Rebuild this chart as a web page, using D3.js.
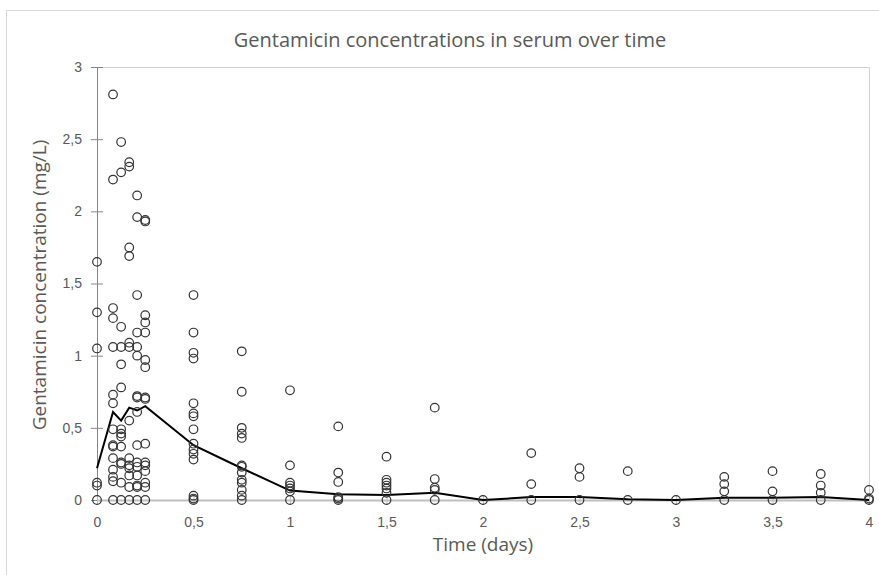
<!DOCTYPE html>
<html>
<head>
<meta charset="utf-8">
<script src="https://cdn.jsdelivr.net/npm/d3@7"></script>
<style>
  body { margin: 0; background: #fff; }
  svg { font-family: "Open Sans", "Noto Sans", sans-serif; }
</style>
</head>
<body>
<div id="chart"></div>
<script>
// sampling times (days)
var times = [0, 0.083, 0.125, 0.167, 0.208, 0.25, 0.5, 0.75, 1, 1.25, 1.5, 1.75, 2, 2.25, 2.5, 2.75, 3, 3.25, 3.5, 3.75, 4];

// measured concentrations (mg/L), one list per sampling time
var concByTime = [
  [1.65, 1.30, 1.05, 0.12, 0.10, 0],
  [2.81, 2.22, 1.33, 1.26, 1.06, 0.73, 0.67, 0.49, 0.38, 0.37, 0.29, 0.21, 0.16, 0.13, 0],
  [2.48, 2.27, 1.20, 1.06, 0.94, 0.78, 0.49, 0.46, 0.44, 0.37, 0.26, 0.25, 0.12, 0],
  [2.34, 2.31, 1.75, 1.69, 1.09, 1.06, 0.55, 0.29, 0.24, 0.22, 0.17, 0.09, 0],
  [2.11, 1.96, 1.42, 1.16, 1.06, 1.00, 0.72, 0.71, 0.61, 0.38, 0.26, 0.23, 0.17, 0.10, 0.09, 0],
  [1.94, 1.93, 1.28, 1.23, 1.16, 0.97, 0.92, 0.71, 0.70, 0.39, 0.26, 0.24, 0.20, 0.12, 0.09, 0],
  [1.42, 1.16, 1.02, 0.98, 0.67, 0.60, 0.58, 0.49, 0.39, 0.35, 0.32, 0.28, 0.03, 0.01, 0],
  [1.03, 0.75, 0.50, 0.46, 0.43, 0.24, 0.23, 0.19, 0.14, 0.12, 0.07, 0.03, 0],
  [0.76, 0.24, 0.12, 0.10, 0.08, 0.06, 0],
  [0.51, 0.19, 0.125, 0.02, 0.01, 0],
  [0.30, 0.14, 0.12, 0.10, 0.08, 0.05, 0],
  [0.64, 0.145, 0.085, 0.07, 0],
  [0],
  [0.325, 0.11, 0],
  [0.22, 0.16, 0],
  [0.20, 0],
  [0],
  [0.16, 0.11, 0.06, 0],
  [0.20, 0.06, 0],
  [0.18, 0.10, 0.05, 0],
  [0.07, 0.01, 0]
];

// average line
var meanConc = [0.22, 0.61, 0.55, 0.64, 0.62, 0.65, 0.38, 0.22, 0.065, 0.04, 0.035, 0.05, 0, 0.02, 0.02, 0.005, 0, 0.015, 0.015, 0.02, 0];

var xTicks = [0, 0.5, 1, 1.5, 2, 2.5, 3, 3.5, 4];
var yTicks = [0, 0.5, 1, 1.5, 2, 2.5, 3];

var W = 879, H = 575;
var pLeft = 97, pRight = 869, pTop = 67, pBottom = 500;
var grey = "#595959";
var fmt = function(d) { return String(d).replace(".", ","); };

var svg = d3.select("#chart")
  .append("svg")
  .attr("width", W)
  .attr("height", H);

// chart area frame
svg.append("rect")
  .attr("x", 6.5).attr("y", 10.5)
  .attr("width", W + 20).attr("height", H + 20)
  .attr("fill", "#fff")
  .attr("stroke", "#d9d9d9");

var xScale = d3.scaleLinear().domain([0, 4]).range([pLeft, pRight]);
var yScale = d3.scaleLinear().domain([0, 3]).range([pBottom, pTop]);

// plot area border (top + right)
svg.append("path")
  .attr("d", "M" + pLeft + "," + (pTop + 0.5) + "H" + (pRight + 0.5) + "V" + pBottom)
  .attr("fill", "none")
  .attr("stroke", "#d0d0d0");

// y axis
var yAxis = d3.axisLeft(yScale)
  .tickValues(yTicks)
  .tickFormat(fmt)
  .tickSizeInner(5)
  .tickSizeOuter(0)
  .tickPadding(10);

var gy = svg.append("g")
  .attr("transform", "translate(" + pLeft + ",0)")
  .call(yAxis);
gy.select(".domain").attr("stroke", "#868686");
gy.selectAll(".tick line").attr("stroke", "#868686").attr("x1", 6).attr("x2", -6);
gy.selectAll(".tick text").attr("fill", grey).style("font-size", "14px");

// x axis
var xAxis = d3.axisBottom(xScale)
  .tickValues(xTicks)
  .tickFormat(fmt)
  .tickSizeInner(5)
  .tickSizeOuter(0)
  .tickPadding(12);

var gx = svg.append("g")
  .attr("transform", "translate(0," + pBottom + ")")
  .call(xAxis);
gx.select(".domain").attr("stroke", "#bfbfbf").attr("stroke-width", 2);
gx.selectAll(".tick line").attr("stroke", "#bfbfbf").attr("y1", -5).attr("y2", 5);
gx.selectAll(".tick text").attr("fill", grey).style("font-size", "14px");

// points
var points = [];
times.forEach(function(t, i) {
  concByTime[i].forEach(function(c) {
    points.push({ t: t, c: c });
  });
});

// mean line
var line = d3.line()
  .x(function(d, i) { return xScale(times[i]); })
  .y(function(d) { return yScale(d); });

svg.append("path")
  .datum(meanConc)
  .attr("d", line)
  .attr("fill", "none")
  .attr("stroke", "#000")
  .attr("stroke-width", 2);

svg.append("g")
  .selectAll("circle")
  .data(points)
  .enter()
  .append("circle")
  .attr("cx", function(d) { return xScale(d.t); })
  .attr("cy", function(d) { return yScale(d.c); })
  .attr("r", 4.3)
  .attr("fill", "none")
  .attr("stroke", "#333")
  .attr("stroke-width", 1.2);

// title
svg.append("text")
  .attr("x", 450)
  .attr("y", 47)
  .attr("text-anchor", "middle")
  .attr("fill", grey)
  .style("font-size", "20px")
  .text("Gentamicin concentrations in serum over time");

// axis labels
svg.append("text")
  .attr("x", 483)
  .attr("y", 551)
  .attr("text-anchor", "middle")
  .attr("fill", grey)
  .style("font-size", "19px")
  .text("Time (days)");

svg.append("text")
  .attr("text-anchor", "middle")
  .attr("transform", "translate(46,285)rotate(-90)")
  .attr("fill", grey)
  .style("font-size", "19px")
  .text("Gentamicin concentration (mg/L)");
</script>
</body>
</html>
